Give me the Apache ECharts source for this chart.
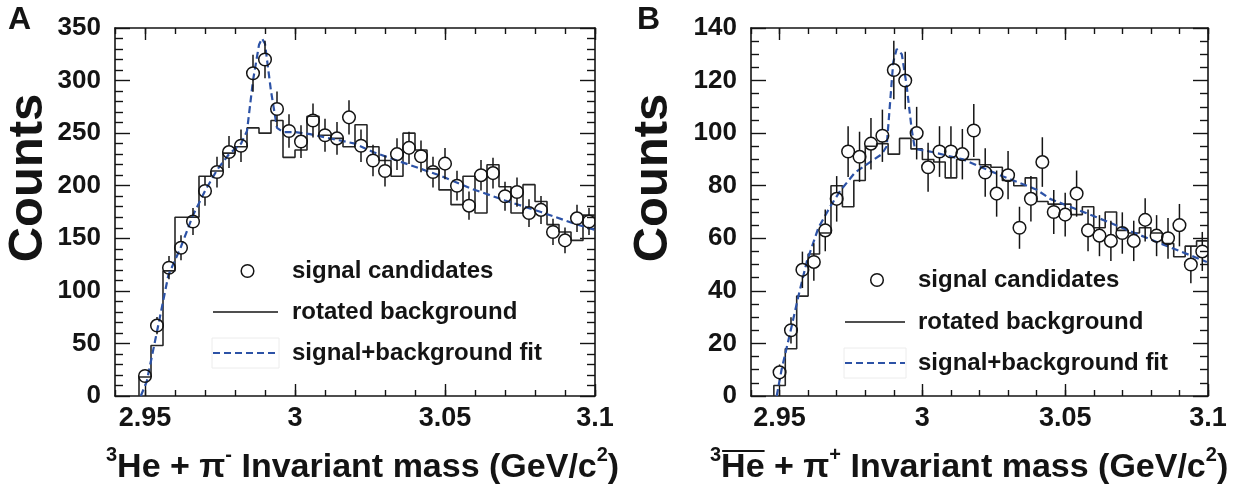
<!DOCTYPE html>
<html>
<head>
<meta charset="utf-8">
<script src="https://cdn.jsdelivr.net/npm/echarts@6/dist/echarts.min.js"></script>
<style>
  html, body { margin: 0; padding: 0; background: #ffffff; }
  #chart { width: 1246px; height: 490px; }
</style>
</head>
<body>
<div id="chart"></div>
<script>
// Invariant-mass bin centres (4 MeV bins), GeV/c^2
const massCenters = [2.950, 2.954, 2.958, 2.962, 2.966, 2.970, 2.974, 2.978, 2.982, 2.986,
                     2.990, 2.994, 2.998, 3.002, 3.006, 3.010, 3.014, 3.018, 3.022, 3.026,
                     3.030, 3.034, 3.038, 3.042, 3.046, 3.050, 3.054, 3.058, 3.062, 3.066,
                     3.070, 3.074, 3.078, 3.082, 3.086, 3.090, 3.094, 3.098];
const binWidth = 0.004;

// Panel A: 3He + pi-
const signalA = [19, 67, 122, 141, 166, 195, 213, 232, 238, 307,
                 320, 273, 252, 242, 262, 248, 245, 265, 238, 224,
                 214, 230, 236, 228, 213, 221, 200, 181, 210, 212,
                 190, 194, 174, 177, 156, 148, 169, 166];
const backgroundA = [18, 48, 119, 170, 170, 209, 214, 231, 237, 255,
                     250, 262, 227, 234, 266, 248, 245, 237, 258, 237,
                     224, 209, 250, 234, 216, 196, 182, 209, 174, 220,
                     199, 174, 201, 185, 163, 156, 148, 172];
const fitMassA = [2.9486, 2.9506, 2.9544, 2.9578, 2.962, 2.966, 2.970, 2.974, 2.978, 2.982,
                  2.984, 2.986, 2.988, 2.989, 2.990, 2.992, 2.994, 2.996, 3.000, 3.005,
                  3.010, 3.015, 3.020, 3.026, 3.037, 3.048, 3.059, 3.070, 3.082, 3.093, 3.100];
const fitCountsA = [0, 14, 67, 115, 142, 172, 195, 215, 230, 240,
                    252, 300, 334, 340, 335, 290, 255, 251, 251, 249,
                    246, 243, 240, 232, 221, 210, 197, 186, 175, 164, 158];

// Panel B: anti-3He + pi+
const signalB = [9, 25, 48, 51, 63, 75, 93, 91, 96, 99,
                 124, 120, 100, 87, 93, 93, 92, 101, 85, 77,
                 84, 64, 75, 89, 70, 69, 77, 63, 61, 59,
                 62, 59, 67, 61, 60, 65, 50, 55];
const backgroundB = [4, 18, 38, 54, 62, 80, 72, 82, 95, 96,
                     92, 98, 94, 90, 89, 83, 90, 90, 88, 87,
                     82, 80, 83, 74, 73, 73, 69, 72, 64, 70,
                     63, 62, 64, 62, 58, 53, 57, 59];
const fitMassB = [2.949, 2.9507, 2.9537, 2.9566, 2.9595, 2.9636, 2.9677, 2.9712, 2.9764, 2.9817,
                  2.9858, 2.9875, 2.9898, 2.991, 2.9928, 2.9945, 2.9963, 2.9974, 3.0027, 3.0143,
                  3.0196, 3.0283, 3.040, 3.0447, 3.0517, 3.061, 3.080, 3.0996];
const fitCountsB = [0, 10, 24, 38, 51, 64, 72, 78, 85, 89,
                    92, 95, 127, 132, 130, 118, 101, 94, 93, 90,
                    87.5, 83.5, 78.5, 75, 72, 68, 59.5, 51];

// Axis ticks
const massMajorTicks = [2.95, 3.0, 3.05, 3.1];
const yAxisA = { max: 350, step: 50, minor: 5 };
const yAxisB = { max: 140, step: 20, minor: 4 };
const legendLabels = ['signal candidates', 'rotated background', 'signal+background fit'];

const FONT = '"Liberation Sans", Arial, Helvetica, sans-serif';
const INK = '#141414';
const FIT_BLUE = '#2c52a6';

const chart = echarts.init(document.getElementById('chart'), null, { renderer: 'canvas' });

const grids = [
  { left: 115, top: 28, width: 480, height: 368 },
  { left: 751, top: 28, width: 457, height: 368 }
];

function massLabel(v) {
  const k = Math.round(v * 100);
  if (Math.abs(v * 100 - k) > 1e-6 || k % 5 !== 0) return '';
  return String(+(k / 100).toFixed(2));
}

function xAxesFor(g) {
  const base = { type: 'value', gridIndex: g, min: 2.94, max: 3.1, splitLine: { show: false } };
  return [
    Object.assign({}, base, {
      position: 'bottom', interval: 0.01,
      axisLine: { show: true, lineStyle: { color: INK, width: 1.6 } },
      axisTick: { show: true, inside: true, length: 6, lineStyle: { color: INK, width: 1.4 } },
      axisLabel: { show: true, formatter: massLabel, color: INK, fontFamily: FONT, fontWeight: 'bold', fontSize: 27, margin: 9, showMinLabel: true, showMaxLabel: true }
    }),
    Object.assign({}, base, {
      position: 'bottom',
      axisLine: { show: false },
      axisTick: { show: true, inside: true, length: 12, customValues: massMajorTicks, lineStyle: { color: INK, width: 1.4 } },
      axisLabel: { show: false }
    }),
    Object.assign({}, base, {
      position: 'top', interval: 0.01,
      axisLine: { show: true, lineStyle: { color: INK, width: 1.6 } },
      axisTick: { show: true, inside: true, length: 6, lineStyle: { color: INK, width: 1.4 } },
      axisLabel: { show: false }
    }),
    Object.assign({}, base, {
      position: 'top',
      axisLine: { show: false },
      axisTick: { show: true, inside: true, length: 12, customValues: massMajorTicks, lineStyle: { color: INK, width: 1.4 } },
      axisLabel: { show: false }
    })
  ];
}

function yAxesFor(g, spec) {
  const base = {
    type: 'value', gridIndex: g, min: 0, max: spec.max, interval: spec.step,
    splitLine: { show: false },
    axisLine: { show: true, lineStyle: { color: INK, width: 1.6 } },
    axisTick: { show: true, inside: true, length: 15, lineStyle: { color: INK, width: 1.4 } },
    minorTick: { show: true, splitNumber: spec.minor, length: 8, lineStyle: { color: INK, width: 1.4 } }
  };
  return [
    Object.assign({}, base, {
      position: 'left',
      axisLabel: { show: true, color: INK, fontFamily: FONT, fontWeight: 'bold', fontSize: 26, margin: 14 }
    }),
    Object.assign({}, base, { position: 'right', axisLabel: { show: false } })
  ];
}

// Histogram drawn as steps along the bin edges
function histData(counts) {
  const pts = [[massCenters[0] - binWidth / 2, 0]];
  counts.forEach((c, i) => pts.push([massCenters[i] - binWidth / 2, c]));
  const last = counts.length - 1;
  pts.push([massCenters[last] + binWidth / 2, counts[last]]);
  return pts;
}

// Signal candidates with Poisson uncertainties
function pointData(counts) {
  return counts.map((c, i) => [massCenters[i], c, Math.sqrt(c)]);
}

function renderPoint(params, api) {
  const m = api.value(0), n = api.value(1), e = api.value(2);
  const c = api.coord([m, n]);
  const hi = api.coord([m, n + e]);
  const lo = api.coord([m, n - e]);
  const r = 6.3;
  const style = { stroke: INK, lineWidth: 1.5, fill: null };
  const children = [];
  if (c[1] - hi[1] > r) children.push({ type: 'line', shape: { x1: c[0], y1: hi[1], x2: c[0], y2: c[1] - r }, style });
  if (lo[1] - c[1] > r) children.push({ type: 'line', shape: { x1: c[0], y1: c[1] + r, x2: c[0], y2: lo[1] }, style });
  children.push({ type: 'circle', shape: { cx: c[0], cy: c[1], r }, style: { stroke: INK, lineWidth: 1.5, fill: 'rgba(0,0,0,0)' } });
  return { type: 'group', children };
}

function seriesFor(g, signal, background, fitMass, fitCounts) {
  const xi = g * 4, yi = g * 2;
  return [
    {
      type: 'line', xAxisIndex: xi, yAxisIndex: yi, step: 'end', symbol: 'none', silent: true,
      data: histData(background), clip: true,
      lineStyle: { color: '#262626', width: 1.6 }, z: 2
    },
    {
      type: 'line', xAxisIndex: xi, yAxisIndex: yi, symbol: 'none', silent: true, smooth: false,
      data: fitMass.map((m, i) => [m, fitCounts[i]]), clip: true,
      lineStyle: { color: FIT_BLUE, width: 2.2, type: [7, 4] }, z: 3
    },
    {
      type: 'custom', xAxisIndex: xi, yAxisIndex: yi, silent: true, clip: true,
      renderItem: renderPoint, encode: { x: 0, y: 1 },
      data: pointData(signal), z: 4
    }
  ];
}

function legendFor(x0, x1, xt, rows) {
  const txt = (y, t) => ({
    type: 'text', x: xt, y, silent: true,
    style: { text: t, font: 'bold 24px ' + FONT, fill: INK, textVerticalAlign: 'middle', verticalAlign: 'middle' }
  });
  return [
    { type: 'circle', silent: true, shape: { cx: (x0 + x1) / 2 + 2, cy: rows[0], r: 6.3 }, style: { stroke: INK, lineWidth: 1.5, fill: 'rgba(0,0,0,0)' } },
    txt(rows[0], legendLabels[0]),
    { type: 'line', silent: true, shape: { x1: x0, y1: rows[1], x2: x1, y2: rows[1] }, style: { stroke: INK, lineWidth: 1.6 } },
    txt(rows[1], legendLabels[1]),
    { type: 'rect', silent: true, shape: { x: x0 - 1, y: rows[2] - 15, width: x1 - x0 + 2, height: 30 }, style: { stroke: '#ececec', lineWidth: 1, fill: null } },
    { type: 'line', silent: true, shape: { x1: x0, y1: rows[2], x2: x1, y2: rows[2] }, style: { stroke: FIT_BLUE, lineWidth: 2, lineDash: [7, 4] } },
    txt(rows[2], legendLabels[2])
  ];
}

const titleRich = {
  m: { fontFamily: FONT, fontWeight: 'bold', fontSize: 34, fill: INK, color: INK, lineHeight: 40, verticalAlign: 'bottom' },
  s: { fontFamily: FONT, fontWeight: 'bold', fontSize: 20, fill: INK, color: INK, lineHeight: 40, verticalAlign: 'top' }
};

// measure where "He" sits in the panel B title, for its overline
const measure = document.createElement('canvas').getContext('2d');
measure.font = 'bold 20px ' + FONT;
const supW = measure.measureText('3').width;
measure.font = 'bold 34px ' + FONT;
const heW = measure.measureText('He').width;

const titleAx = 106, titleBx = 710, titleY = 445;

const graphics = [
  { type: 'text', x: 8, y: 4, silent: true, style: { text: 'A', font: 'bold 32px ' + FONT, fill: INK } },
  { type: 'text', x: 637, y: 4, silent: true, style: { text: 'B', font: 'bold 32px ' + FONT, fill: INK } },
  { type: 'text', x: 28, y: 178, rotation: Math.PI / 2, silent: true,
    style: { text: 'Counts', font: 'bold 49px ' + FONT, fill: INK, align: 'center', verticalAlign: 'middle', textAlign: 'center', textVerticalAlign: 'middle' } },
  { type: 'text', x: 653, y: 178, rotation: Math.PI / 2, silent: true,
    style: { text: 'Counts', font: 'bold 49px ' + FONT, fill: INK, align: 'center', verticalAlign: 'middle', textAlign: 'center', textVerticalAlign: 'middle' } },
  { type: 'text', x: titleAx, y: titleY, silent: true,
    style: { text: '{s|3}{m|He + π}{s|-}{m| Invariant mass (GeV/c}{s|2}{m|)}', rich: titleRich } },
  { type: 'text', x: titleBx, y: titleY, silent: true,
    style: { text: '{s|3}{m|He + π}{s|+}{m| Invariant mass (GeV/c}{s|2}{m|)}', rich: titleRich } },
  { type: 'line', silent: true,
    shape: { x1: titleBx + supW + 1, y1: titleY + 6, x2: titleBx + supW + heW, y2: titleY + 6 },
    style: { stroke: INK, lineWidth: 2 } }
]
  .concat(legendFor(213, 278, 292, [271, 312, 353]))
  .concat(legendFor(845, 905, 918, [280, 322, 363]));

chart.setOption({
  animation: false,
  backgroundColor: '#ffffff',
  grid: grids.map(g => Object.assign({ containLabel: false, show: false }, g)),
  xAxis: xAxesFor(0).concat(xAxesFor(1)),
  yAxis: yAxesFor(0, yAxisA).concat(yAxesFor(1, yAxisB)),
  series: seriesFor(0, signalA, backgroundA, fitMassA, fitCountsA)
    .concat(seriesFor(1, signalB, backgroundB, fitMassB, fitCountsB)),
  graphic: graphics
});
</script>
</body>
</html>
